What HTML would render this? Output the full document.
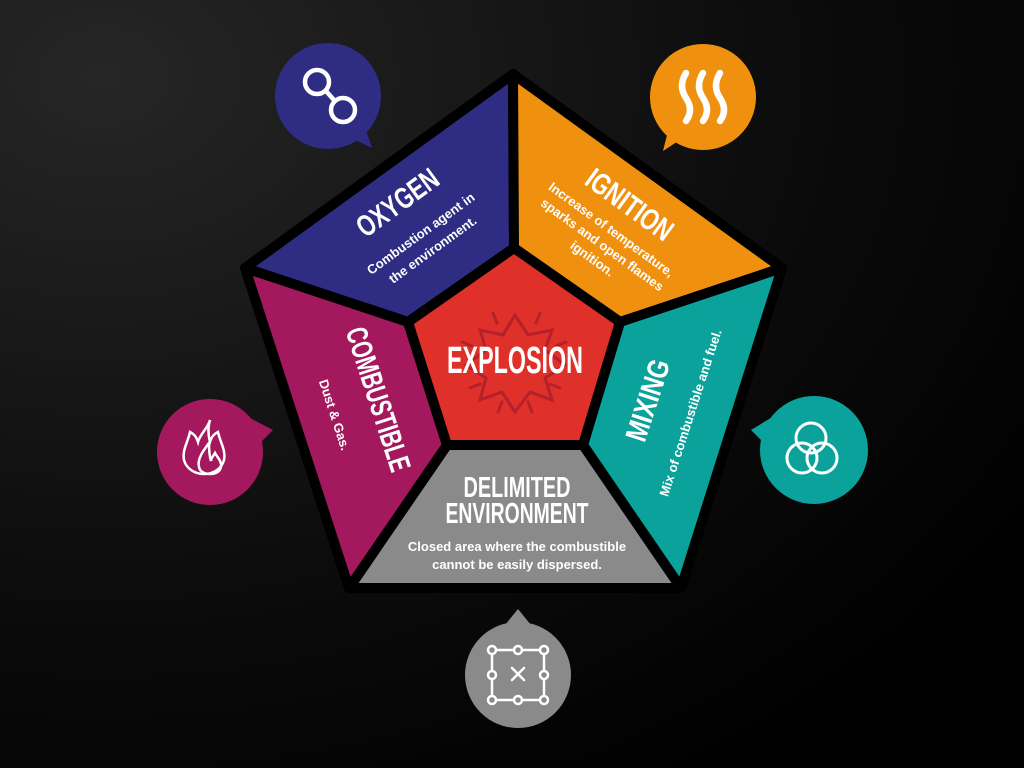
<!DOCTYPE html>
<html><head><meta charset="utf-8"><style>
html,body{margin:0;padding:0;width:1024px;height:768px;overflow:hidden;background:#000}
svg{display:block}
.t{font-family:"Liberation Sans Narrow","Liberation Sans",sans-serif;font-weight:bold;fill:#fff}
.s{font-family:"Liberation Sans",sans-serif;font-weight:bold;fill:#fff;font-size:13px}
</style></head><body>
<svg width="1024" height="768" viewBox="0 0 1024 768" xmlns="http://www.w3.org/2000/svg">
<defs>
<radialGradient id="bg" cx="0.1" cy="0.1" r="1.1">
<stop offset="0" stop-color="#262626"/><stop offset="0.6" stop-color="#0c0c0c"/><stop offset="1" stop-color="#000"/>
</radialGradient>
</defs>
<rect width="1024" height="768" fill="url(#bg)"/>

<g>
<circle cx="328" cy="96" r="53" fill="#2e2d83"/>
<path d="M345 135 L372 148 L362 118 Z" fill="#2e2d83"/>
<circle cx="703" cy="97" r="53" fill="#f0900f"/>
<path d="M686 136 L663 151 L671 119 Z" fill="#f0900f"/>
<circle cx="210" cy="452" r="53" fill="#a4195e"/>
<path d="M250 418 L273 430 L255 448 Z" fill="#a4195e"/>
<circle cx="814" cy="450" r="54" fill="#0aa29a"/>
<path d="M774 416 L751 430 L769 448 Z" fill="#0aa29a"/>
<circle cx="518" cy="675" r="53" fill="#8a8a8a"/>
<path d="M505 625 L518 609 L531 625 Z" fill="#8a8a8a"/>
</g>
<g fill="none" stroke="#fff" stroke-width="4.5" stroke-linecap="round">
<circle cx="317" cy="82" r="12"/><circle cx="343" cy="110" r="12"/>
<path d="M326 91 L334 100"/>
<g stroke-width="6.5"><path d="M686 73 q-8 13 0 25 q8 12 0 23"/><path d="M703 73 q-8 13 0 25 q8 12 0 23"/><path d="M720 73 q-8 13 0 25 q8 12 0 23"/></g>
<circle cx="811" cy="438" r="15" stroke-width="3"/><circle cx="802" cy="458" r="15" stroke-width="3"/><circle cx="822" cy="458" r="15" stroke-width="3"/>
<g stroke-width="2.5"><path d="M210 420 c-2 8 -10 14 -12 22 c-2 -6 -4 -8 -8 -10 c-2 10 -8 18 -6 28 c2 8 10 14 20 14 c10 0 18 -6 20 -14 c2 -10 -4 -18 -6 -28 c-4 2 -6 4 -8 10 c-2 -8 -2 -16 0 -22 z"/>
<path d="M209 443 c-6 8 -12 16 -10 24 c1 5 6 7 11 7 c5 0 10 -2 11 -7 c1 -6 -4 -10 -6 -14 c-2 4 -4 4 -4 8 c-2 -6 -2 -12 -2 -18 z"/></g>
<g stroke-width="2.5"><rect x="492" y="650" width="52" height="50"/><path d="M512 668 l12 12 M524 668 l-12 12"/></g>
</g>
<g fill="#8a8a8a" stroke="#fff" stroke-width="2.5">
<circle cx="492" cy="650" r="4"/><circle cx="518" cy="650" r="4"/><circle cx="544" cy="650" r="4"/>
<circle cx="492" cy="675" r="4"/><circle cx="544" cy="675" r="4"/>
<circle cx="492" cy="700" r="4"/><circle cx="518" cy="700" r="4"/><circle cx="544" cy="700" r="4"/>
</g>

<g stroke="#000" stroke-width="10" stroke-linejoin="round">
<polygon points="513,74 514,248 408,322 245,268" fill="#2e2d83"/>
<polygon points="513,74 782,268 620,322 514,248" fill="#f0900f"/>
<polygon points="782,268 681,588 583,445 620,322" fill="#0aa29a"/>
<polygon points="681,588 349,588 447,445 583,445" fill="#8a8a8a"/>
<polygon points="349,588 245,268 408,322 447,445" fill="#a4195e"/>
<polygon points="514,248 620,322 583,445 447,445 408,322" fill="#e0302a"/>
</g>
<g fill="none" stroke="#b3212a" stroke-width="3" stroke-linecap="round">
<polygon points="515,315 528,335 552,330 545,350 565,365 545,378 552,400 530,392 515,412 502,392 480,400 486,378 466,365 486,350 480,330 503,335"/>
<path d="M493 313 l4 10 M540 313 l-4 10 M462 342 l10 4 M566 342 l-10 4 M470 388 l10 -4 M560 388 l-10 -4 M498 412 l4 -10 M532 412 l-4 -10"/>
</g>

<text class="t" x="515" y="373" font-size="38" text-anchor="middle" textLength="136" lengthAdjust="spacingAndGlyphs">EXPLOSION</text>
<text class="t" transform="translate(397,202) rotate(-36)" y="11" font-size="30" text-anchor="middle" textLength="94" lengthAdjust="spacingAndGlyphs">OXYGEN</text>
<text class="s" transform="translate(421,234) rotate(-36)" y="4" text-anchor="middle">Combustion agent in</text>
<text class="s" transform="translate(433,250) rotate(-36)" y="4" text-anchor="middle">the environment.</text>

<text class="t" transform="translate(630,204) rotate(36)" y="11" font-size="30" text-anchor="middle" textLength="100" lengthAdjust="spacingAndGlyphs">IGNITION</text>
<text class="s" transform="translate(611,230) rotate(36)" y="4" text-anchor="middle">Increase of temperature,</text>
<text class="s" transform="translate(602,245) rotate(36)" y="4" text-anchor="middle">sparks and open flames</text>
<text class="s" transform="translate(592,259) rotate(36)" y="4" text-anchor="middle">ignition.</text>

<text class="t" transform="translate(379,399) rotate(72)" y="11" font-size="30" text-anchor="middle" textLength="150" lengthAdjust="spacingAndGlyphs">COMBUSTIBLE</text>
<text class="s" transform="translate(334,415) rotate(72)" y="4" text-anchor="middle">Dust &amp; Gas.</text>

<text class="t" transform="translate(647,400) rotate(-72)" y="11" font-size="30" text-anchor="middle" textLength="84" lengthAdjust="spacingAndGlyphs">MIXING</text>
<text class="s" transform="translate(691,413) rotate(-72)" y="4" text-anchor="middle">Mix of combustible and fuel.</text>

<text class="t" x="517" y="497" font-size="29" text-anchor="middle" textLength="107" lengthAdjust="spacingAndGlyphs">DELIMITED</text>
<text class="t" x="517" y="523" font-size="29" text-anchor="middle" textLength="143" lengthAdjust="spacingAndGlyphs">ENVIRONMENT</text>
<text class="s" x="517" y="551" text-anchor="middle">Closed area where the combustible</text>
<text class="s" x="517" y="569" text-anchor="middle">cannot be easily dispersed.</text>
</svg>
</body></html>
